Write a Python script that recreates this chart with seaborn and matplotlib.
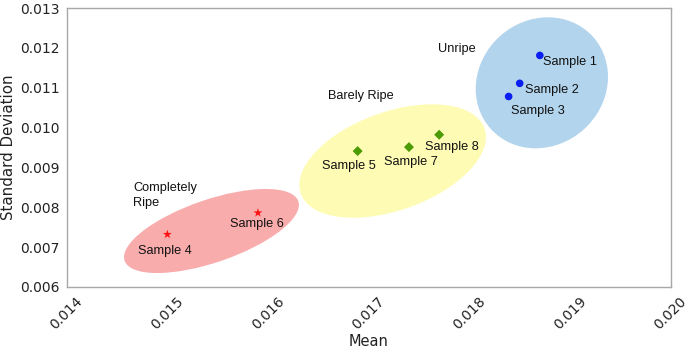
import numpy as np
import pandas as pd
import matplotlib
matplotlib.use("Agg")
import matplotlib.pyplot as plt
import matplotlib.transforms as mtransforms
from matplotlib.patches import Ellipse
import seaborn as sns

# ---- data ----
samples = ["Sample 1", "Sample 2", "Sample 3", "Sample 4", "Sample 5", "Sample 6", "Sample 7", "Sample 8"]
mean_vals = [0.01870, 0.01850, 0.01839, 0.01500, 0.01689, 0.01590, 0.01740, 0.01770]
std_vals = [0.01181, 0.01111, 0.01078, 0.00732, 0.00941, 0.00786, 0.00951, 0.00982]
groups = ["Unripe", "Unripe", "Unripe", "Completely Ripe", "Barely Ripe", "Completely Ripe", "Barely Ripe", "Barely Ripe"]

x_ticks = [0.014, 0.015, 0.016, 0.017, 0.018, 0.019, 0.020]
y_ticks = [0.006, 0.007, 0.008, 0.009, 0.010, 0.011, 0.012, 0.013]

# label positions (data coords)
label_x = [0.018731, 0.018556, 0.018411, 0.014711, 0.016539, 0.015622, 0.017149, 0.017559]
label_y = [0.011638, 0.010943, 0.010423, 0.006911, 0.009028, 0.007581, 0.009144, 0.009520]

group_names = ["Unripe", "Barely Ripe", "Completely\nRipe"]
group_label_x = [0.017691, 0.016593, 0.014662]
group_label_y = [0.011971, 0.010800, 0.008296]

# ellipse centres (data coords)
ell_cx = [0.018720, 0.017238, 0.015438]
ell_cy = [0.011123, 0.009161, 0.007405]

df = pd.DataFrame({"sample": samples, "Mean": mean_vals, "Std": std_vals, "group": groups})

sns.set_style("white")
plt.rcParams["font.family"] = ["DejaVu Sans"]

fig = plt.figure(figsize=(6.88, 3.48), dpi=100)
ax = fig.add_axes([66.7 / 688, 1 - 287 / 348, 604 / 688, 279 / 348])
ax.set_xlim(0.014, 0.020)
ax.set_ylim(0.006, 0.013)

# ellipses: shape in pixels, centred on data points
ell_shapes = [(68.8, 62.7, 42.0, "#b2d4ec"), (97.5, 49.2, 19.6, "#fefcb4"), (91.8, 31.4, 18.9, "#f9acac")]
for (a, b, ang, col), cx, cy in zip(ell_shapes, ell_cx, ell_cy):
    tr = mtransforms.Affine2D() + mtransforms.ScaledTranslation(cx, cy, ax.transData)
    e = Ellipse((0, 0), 2 * a, 2 * b, angle=ang, transform=tr, facecolor=col, edgecolor="none", zorder=1)
    ax.add_patch(e)

sns.scatterplot(data=df[df.group == "Unripe"], x="Mean", y="Std", marker="o", color="#0a1ef0",
                s=30, edgecolor="none", ax=ax, zorder=3)
sns.scatterplot(data=df[df.group == "Barely Ripe"], x="Mean", y="Std", marker="D", color="#4c9a06",
                s=26, edgecolor="none", ax=ax, zorder=3)
sns.scatterplot(data=df[df.group == "Completely Ripe"], x="Mean", y="Std", marker="*", color="#ff1010",
                s=45, edgecolor="none", ax=ax, zorder=3)

for s, lx, ly in zip(samples, label_x, label_y):
    ax.text(lx, ly, s, fontsize=9.2, family=["Liberation Sans"], color="#111111",
            ha="left", va="center", zorder=4)
for g, lx, ly in zip(group_names, group_label_x, group_label_y):
    ax.text(lx, ly, g, fontsize=9.2, family=["Liberation Sans"], color="#111111",
            ha="left", va="center", linespacing=1.25, zorder=4)

ax.set_xticks(x_ticks)
ax.set_yticks(y_ticks)
ax.set_xticklabels([f"{v:.3f}" for v in x_ticks], rotation=45, ha="center")
ax.set_yticklabels([f"{v:.3f}" for v in y_ticks])
ax.tick_params(axis="both", labelsize=10, length=3, color="#999999", labelcolor="#222222", pad=2)
ax.set_xlabel("Mean", fontsize=10.5, color="#222222")
ax.set_ylabel("Standard Deviation", fontsize=10.8, color="#222222")
ax.xaxis.label.set_va("center")
ax.yaxis.label.set_va("center")
ax.xaxis.set_label_coords(0.5, (287 - 341) / 279)
ax.yaxis.set_label_coords((9 - 66.7) / 604, 0.5)
for sp in ax.spines.values():
    sp.set_color("#a8a8a8")
    sp.set_linewidth(1.0)

fig.savefig("out.png", dpi=100)
